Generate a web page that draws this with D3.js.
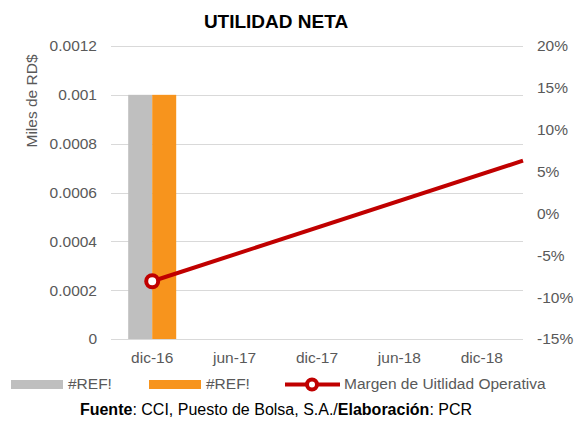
<!DOCTYPE html>
<html>
<head>
<meta charset="utf-8">
<title>Utilidad Neta</title>
<script src="https://cdn.jsdelivr.net/npm/d3@7"></script>
<style>
  body { margin: 0; background: #fff; }
  text { font-family: "Liberation Sans", Arial, sans-serif; }
</style>
</head>
<body>
<div id="chart"></div>
<script>
  // data
  var categories = ["dic-16", "jun-17", "dic-17", "jun-18", "dic-18"];
  var seriesA = [0.001, null, null, null, null];      // #REF! (gris)
  var seriesB = [0.001, null, null, null, null];      // #REF! (naranja)
  var marginValues = [-8.1, 6.3];                      // % margen
  var marginSteps = [0, 4.5];                          // posicion en categorias (ultimo punto sale del eje)
  var leftTicks = [0, 0.0002, 0.0004, 0.0006, 0.0008, 0.001, 0.0012];
  var rightTicks = [-15, -10, -5, 0, 5, 10, 15, 20];

  var width = 576, height = 426;
  var plotL = 111, plotR = 523, plotT = 46, plotB = 339;
  var txtColor = "#595959";
  var fs = "15.5px";

  var svg = d3.select("#chart").append("svg")
    .attr("width", width)
    .attr("height", height);

  var x = d3.scaleBand().domain(categories).range([plotL, plotR]);
  var xs = d3.scaleLinear().domain([-0.5, categories.length - 0.5]).range([plotL, plotR]);
  var y = d3.scaleLinear().domain([0, 0.0012]).range([plotB, plotT]);
  var y2 = d3.scaleLinear().domain([-15, 20]).range([plotB, plotT]);

  // gridlines
  svg.append("g").selectAll("line").data(leftTicks).enter().append("line")
    .attr("x1", plotL).attr("x2", plotR)
    .attr("y1", function(d) { return Math.round(y(d)) + 0.5; })
    .attr("y2", function(d) { return Math.round(y(d)) + 0.5; })
    .style("stroke", "#D9D9D9").style("stroke-width", 1);

  // bars
  var bw = 24;
  var barData = [];
  categories.forEach(function(c, i) {
    if (seriesA[i] != null) barData.push({c: c, v: seriesA[i], k: 0});
    if (seriesB[i] != null) barData.push({c: c, v: seriesB[i], k: 1});
  });
  var barColors = ["#BFBFBF", "#F7941D"];
  svg.append("g").selectAll("rect").data(barData).enter().append("rect")
    .attr("x", function(d) { return x(d.c) + x.bandwidth() / 2 - bw + d.k * bw; })
    .attr("y", function(d) { return y(d.v); })
    .attr("width", bw)
    .attr("height", function(d) { return y(0) - y(d.v); })
    .style("fill", function(d) { return barColors[d.k]; });

  // line on secondary axis
  var pts = marginValues.map(function(v, i) { return [xs(marginSteps[i]), y2(v)]; });
  svg.append("path")
    .attr("d", d3.line()(pts))
    .style("fill", "none").style("stroke", "#C00000").style("stroke-width", 4);
  svg.append("circle")
    .attr("cx", pts[0][0]).attr("cy", pts[0][1]).attr("r", 6)
    .style("fill", "#fff").style("stroke", "#C00000").style("stroke-width", 4);

  // left axis labels
  svg.append("g").selectAll("text").data(leftTicks).enter().append("text")
    .attr("x", 97).attr("y", function(d) { return y(d); })
    .attr("dy", "0.35em").attr("text-anchor", "end")
    .style("font-size", fs).style("fill", txtColor)
    .text(function(d) { return d === 0 ? "0" : String(+d.toFixed(4)); });

  // right axis labels
  svg.append("g").selectAll("text").data(rightTicks).enter().append("text")
    .attr("x", 537).attr("y", function(d) { return y2(d); })
    .attr("dy", "0.35em").attr("text-anchor", "start")
    .style("font-size", fs).style("fill", txtColor)
    .text(function(d) { return d + "%"; });

  // category labels
  svg.append("g").selectAll("text").data(categories).enter().append("text")
    .attr("x", function(d) { return x(d) + x.bandwidth() / 2; })
    .attr("y", 363).attr("text-anchor", "middle")
    .style("font-size", fs).style("fill", txtColor)
    .text(function(d) { return d; });

  // title
  svg.append("text").attr("x", 276).attr("y", 28).attr("text-anchor", "middle")
    .style("font-size", "19px").style("font-weight", "bold").style("fill", "#000")
    .text("UTILIDAD NETA");

  // y axis title
  svg.append("text").attr("transform", "translate(37,101) rotate(-90)")
    .attr("text-anchor", "middle")
    .style("font-size", fs).style("fill", txtColor)
    .text("Miles de RD$");

  // legend
  var lg = svg.append("g");
  lg.append("rect").attr("x", 11).attr("y", 380).attr("width", 52).attr("height", 9).style("fill", barColors[0]);
  lg.append("text").attr("x", 68).attr("y", 389).style("font-size", fs).style("fill", txtColor).text("#REF!");
  lg.append("rect").attr("x", 149).attr("y", 380).attr("width", 52).attr("height", 9).style("fill", barColors[1]);
  lg.append("text").attr("x", 206).attr("y", 389).style("font-size", fs).style("fill", txtColor).text("#REF!");
  lg.append("line").attr("x1", 285).attr("x2", 340).attr("y1", 384.5).attr("y2", 384.5)
    .style("stroke", "#C00000").style("stroke-width", 4);
  lg.append("circle").attr("cx", 312).attr("cy", 384.5).attr("r", 5)
    .style("fill", "#fff").style("stroke", "#C00000").style("stroke-width", 4);
  lg.append("text").attr("x", 344).attr("y", 389).style("font-size", fs).style("fill", txtColor)
    .text("Margen de Uitlidad Operativa");

  // footer
  var ft = svg.append("text").attr("x", 276).attr("y", 415).attr("text-anchor", "middle")
    .style("font-size", "16px").style("fill", "#000");
  ft.append("tspan").style("font-weight", "bold").text("Fuente");
  ft.append("tspan").text(": CCI, Puesto de Bolsa, S.A./");
  ft.append("tspan").style("font-weight", "bold").text("Elaboración");
  ft.append("tspan").text(": PCR");
</script>
</body>
</html>
